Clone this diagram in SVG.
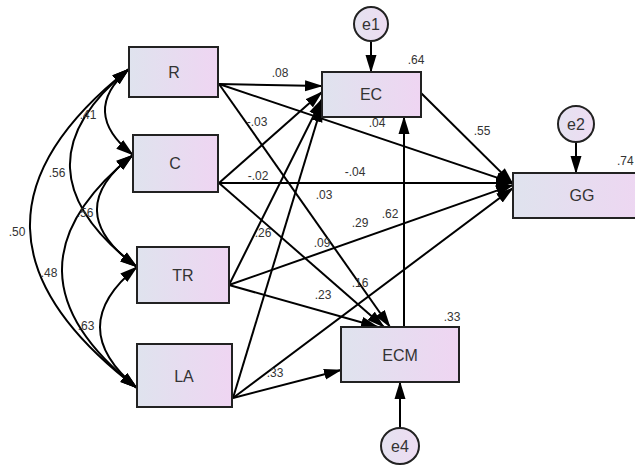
<svg xmlns="http://www.w3.org/2000/svg" width="635" height="465" viewBox="0 0 635 465">
<defs>
<linearGradient id="boxfill" x1="0" y1="0" x2="1" y2="0">
<stop offset="0" stop-color="#dfe3ee"/>
<stop offset="1" stop-color="#efd5f2"/>
</linearGradient>
<linearGradient id="circfill" x1="0" y1="0" x2="1" y2="0">
<stop offset="0" stop-color="#e4e2f0"/>
<stop offset="1" stop-color="#eedcf2"/>
</linearGradient>
<marker id="ah" markerUnits="userSpaceOnUse" markerWidth="18" markerHeight="12" refX="17" refY="6" orient="auto-start-reverse">
<path d="M0,0.5 L18,6 L0,11.5 z" fill="#000"/>
</marker>
</defs>
<style>
.box{fill:url(#boxfill);stroke:#222;stroke-width:2}
.err{fill:url(#circfill);stroke:#222;stroke-width:2}
.lbl{font-family:"Liberation Sans",Arial,sans-serif;font-size:16px;fill:#333;text-anchor:middle}
.num{font-family:"Liberation Sans",Arial,sans-serif;font-size:12px;fill:#333;text-anchor:middle}
.p{fill:none;stroke:#000;stroke-width:2;marker-end:url(#ah)}
.cov{fill:none;stroke:#000;stroke-width:2;marker-start:url(#ah);marker-end:url(#ah)}
</style>
<rect width="635" height="465" fill="#fff"/>
<g id="connectors">
<path class="cov" d="M129,69 Q79,112 133,155"/>
<path class="cov" d="M129,69 Q7,168 137,267"/>
<path class="cov" d="M129,69 Q-73,228 137,388"/>
<path class="cov" d="M133,155 Q59,211 137,267"/>
<path class="cov" d="M133,155 Q-11,271 137,388"/>
<path class="cov" d="M137,267 Q63,327 137,388"/>
<path class="p" d="M219,84 L322,86"/>
<path class="p" d="M219,84 L513,183"/>
<path class="p" d="M219,84 L390,327"/>
<path class="p" d="M219,183 L322,92"/>
<path class="p" d="M219,183 L513,183"/>
<path class="p" d="M219,183 L384,327"/>
<path class="p" d="M229,285 L322,99"/>
<path class="p" d="M229,285 L513,185"/>
<path class="p" d="M229,285 L378,327"/>
<path class="p" d="M233,398 L322,105"/>
<path class="p" d="M233,398 L513,188"/>
<path class="p" d="M233,398 L341,370"/>
<path class="p" d="M421,93 L513,184"/>
<path class="p" d="M404,327 L404,117"/>
<path class="p" d="M371,42 L371,72"/>
<path class="p" d="M576,142 L576,173"/>
<path class="p" d="M400,428 L400,382"/>
</g>
<g id="labels">
<text class="num" x="280" y="77">.08</text>
<text class="num" x="257" y="126">-.03</text>
<text class="num" x="377" y="127">.04</text>
<text class="num" x="258" y="180">-.02</text>
<text class="num" x="355" y="176">-.04</text>
<text class="num" x="324" y="199">.03</text>
<text class="num" x="263" y="237">.26</text>
<text class="num" x="322" y="247">.09</text>
<text class="num" x="360" y="227">.29</text>
<text class="num" x="390" y="218">.62</text>
<text class="num" x="360" y="287">.16</text>
<text class="num" x="323" y="299">.23</text>
<text class="num" x="275" y="377">.33</text>
<text class="num" x="482" y="135">.55</text>
<text class="num" x="416" y="64">.64</text>
<text class="num" x="617" y="165" style="text-anchor:start">.74</text>
<text class="num" x="452" y="321">.33</text>
<text class="num" x="88" y="119">.41</text>
<text class="num" x="57" y="177">.56</text>
<text class="num" x="85" y="217">.56</text>
<text class="num" x="17" y="236">.50</text>
<text class="num" x="49" y="277">.48</text>
<text class="num" x="86" y="330">.63</text>
</g>
<g id="R"><rect class="box" x="129" y="47" width="89" height="50"/><text class="lbl" x="174" y="78">R</text></g>
<g id="C"><rect class="box" x="133" y="135" width="85" height="57"/><text class="lbl" x="175" y="169">C</text></g>
<g id="TR"><rect class="box" x="137" y="247" width="92" height="56"/><text class="lbl" x="183" y="281">TR</text></g>
<g id="LA"><rect class="box" x="137" y="344" width="95" height="63"/><text class="lbl" x="184" y="382">LA</text></g>
<g id="EC"><rect class="box" x="322" y="72" width="99" height="45"/><text class="lbl" x="371" y="100">EC</text></g>
<g id="GG"><rect class="box" x="513" y="173" width="140" height="45"/><text class="lbl" x="582" y="201">GG</text></g>
<g id="ECM"><rect class="box" x="341" y="327" width="118" height="55"/><text class="lbl" x="400" y="361">ECM</text></g>
<g id="e1"><circle class="err" cx="371" cy="24" r="17"/><text class="lbl" x="371" y="30">e1</text></g>
<g id="e2"><circle class="err" cx="576" cy="124" r="18"/><text class="lbl" x="576" y="130">e2</text></g>
<g id="e4"><ellipse class="err" cx="400" cy="446" rx="19" ry="18"/><text class="lbl" x="400" y="452">e4</text></g>
</svg>
